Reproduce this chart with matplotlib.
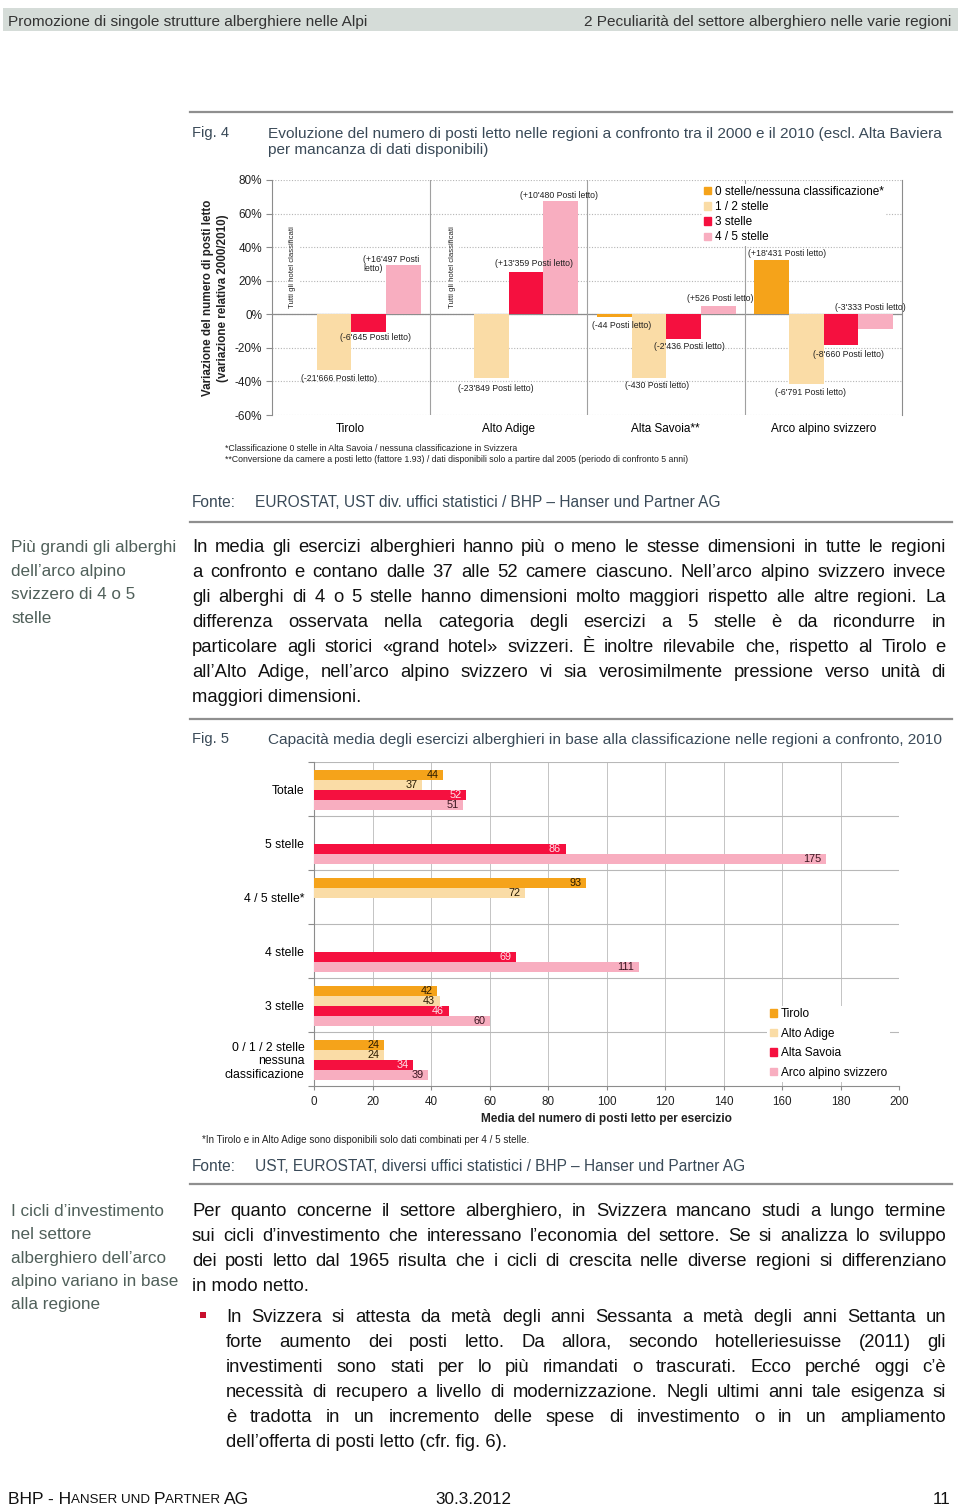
import matplotlib
matplotlib.use('Agg')
import matplotlib.pyplot as plt
from matplotlib import font_manager
from matplotlib.patches import Patch, Rectangle
from matplotlib.lines import Line2D
import numpy as np

# ---- Fig. 4 data: change of bed places 2000/2010 (%), per class, per region
regions = ['Tirolo', 'Alto Adige', 'Alta Savoia**', 'Arco alpino svizzero']
classes = ['0 stelle/nessuna classificazione*', '1 / 2 stelle', '3 stelle', '4 / 5 stelle']
pct_0 = [np.nan, np.nan, -1.6, 32.1]
pct_12 = [-33.3, -38.0, -37.7, -41.7]
pct_3 = [-10.7, 25.0, -14.5, -18.5]
pct_45 = [29.2, 67.3, 4.8, -8.5]
lab_0 = [None, None, "(-44 Posti letto)", "(+18'431 Posti letto)"]
lab_12 = ["(-21'666 Posti letto)", "(-23'849 Posti letto)", "(-430 Posti letto)", "(-6'791 Posti letto)"]
lab_3 = ["(-6'645 Posti letto)", "(+13'359 Posti letto)", "(-2'436 Posti letto)", "(-8'660 Posti letto)"]
lab_45 = ["(+16'497 Posti\nletto)", "(+10'480 Posti letto)", "(+526 Posti letto)", "(-3'333 Posti letto)"]

# ---- Fig. 5 data: average bed places per establishment, 2010
categories = ['Totale', '5 stelle', '4 / 5 stelle*', '4 stelle', '3 stelle',
              '0 / 1 / 2 stelle\nnessuna\nclassificazione']
areas = ['Tirolo', 'Alto Adige', 'Alta Savoia', 'Arco alpino svizzero']
beds_tirolo = [44, np.nan, 93, np.nan, 42, 24]
beds_altoadige = [37, np.nan, 72, np.nan, 43, 24]
beds_altasavoia = [52, 86, np.nan, 69, 46, 34]
beds_arco = [51, 175, np.nan, 111, 60, 39]

colors = ['#F5A31A', '#FADCA6', '#F5103F', '#F8AEC0']

W, H = 960, 1508
plt.rcParams['font.family'] = ['Liberation Sans', 'DejaVu Sans']
names = {f.name for f in font_manager.fontManager.ttflist}
NARROW = 'Liberation Sans Narrow' if 'Liberation Sans Narrow' in names else 'Liberation Sans'

fig = plt.figure(figsize=(9.6, 15.08), dpi=100)
renderer = fig.canvas.get_renderer()


def fx(x):
    return x / W


def fy(y):
    return 1 - y / H


def txt(x, y, s, size, ha='left', **kw):
    # y is the visual middle of the text line, in pixels from the top
    base = y + 0.36 * size * 100 / 72
    return fig.text(fx(x), fy(base), s, fontsize=size, ha=ha, va='baseline', **kw)


def justify(x0, x1, y, line, size, last=False, **kw):
    words = line.split(' ')
    if last or len(words) == 1:
        return txt(x0, y, line, size, **kw)
    arts = [txt(x0, y, w, size, **kw) for w in words]
    widths = [a.get_window_extent(renderer).width for a in arts]
    gap = (x1 - x0 - sum(widths)) / (len(words) - 1)
    x = x0
    for a, w in zip(arts, widths):
        a.set_x(fx(x))
        x += w + gap


def hline(y, x0=190, x1=952):
    fig.add_artist(Line2D([fx(x0), fx(x1)], [fy(y), fy(y)], color='#8f8f8f', lw=1.6))


CAP = '#3a4a58'
BODY = 13.3

# header band
fig.add_artist(Rectangle((fx(3), fy(31)), (958 - 3) / W, 23 / H, color='#d5dcd8', lw=0))
txt(8, 20, 'Promozione di singole strutture alberghiere nelle Alpi', 11.1, color='#333333', family=NARROW)
txt(951, 20, '2 Peculiarità del settore alberghiero nelle varie regioni', 11.1, ha='right',
    color='#333333', family=NARROW)

# ---- Fig. 4 caption
hline(112)
txt(192, 132, 'Fig. 4', 10.6, color=CAP)
txt(268, 132, 'Evoluzione del numero di posti letto nelle regioni a confronto tra il 2000 e il 2010 (escl. Alta Baviera',
    11.05, color=CAP)
txt(268, 148, 'per mancanza di dati disponibili)', 11.05, color=CAP)

ax1 = fig.add_axes([fx(272), fy(415), (902 - 272) / W, (415 - 180) / H])
ax1.set_xlim(0, 4)
ax1.set_ylim(-60, 80)
slot, off = 0.22, 0.063
series1 = [pct_0, pct_12, pct_3, pct_45]
for k, (vals, col) in enumerate(zip(series1, colors)):
    for g, v in enumerate(vals):
        if np.isnan(v):
            continue
        ax1.bar(g + off + k * slot, v, width=slot, align='edge', color=col, zorder=3)

ax1.set_yticks(range(-60, 81, 20))
ax1.set_yticklabels([f'{v}%' for v in range(-60, 81, 20)], fontsize=8.5)
ax1.yaxis.grid(True, color='#b5b5b5', ls=(0, (1, 1.5)), lw=0.8)
ax1.set_axisbelow(True)
ax1.axhline(0, color='#8c8c8c', lw=0.9, zorder=2)
for g in (1, 2, 3):
    ax1.axvline(g, color='#a0a0a0', lw=0.8, zorder=2)
for s in ('top', 'bottom'):
    ax1.spines[s].set_visible(False)
for s in ('left', 'right'):
    ax1.spines[s].set_color('#8c8c8c')
    ax1.spines[s].set_linewidth(0.8)
ax1.tick_params(axis='y', colors='#8c8c8c', labelcolor='#222222', length=4, width=0.8, pad=3)
ax1.set_xticks([0.5, 1.5, 2.5, 3.5])
ax1.set_xticklabels(regions, fontsize=8.5)
ax1.tick_params(axis='x', length=0, pad=6)

# value annotations (layout positions in data coordinates)
label_pos = [
    [None, None, (2.219, -6.6, 'center'), (3.27, 36.3, 'center')],
    [(0.425, -38.5, 'center'), (1.42, -44.5, 'center'), (2.444, -42.7, 'center'), (3.416, -46.7, 'center')],
    [(0.654, -14.0, 'center'), (1.665, 30.0, 'center'), (2.648, -19.3, 'center'), (3.66, -23.8, 'center')],
    [(0.58, 30.0, 'left'), (1.822, 70.7, 'center'), (2.848, 9.5, 'center'), (3.8, 4.2, 'center')],
]
for labs, poss in zip([lab_0, lab_12, lab_3, lab_45], label_pos):
    for s, p in zip(labs, poss):
        if s is None:
            continue
        ax1.text(p[0], p[1], s, fontsize=6.3, ha=p[2], va='center', color='#222222',
                 zorder=5, linespacing=1.1)
for gx in (0.133, 1.149):
    ax1.text(gx, 3.5, 'Tutti gli hotel classificati', rotation=90, fontsize=5.6, ha='center',
             va='bottom', color='#222222', zorder=4,
             bbox=dict(fc='white', ec='none', pad=1.5))

leg1 = ax1.legend([Patch(color=c) for c in colors], classes, loc='upper left',
                  bbox_to_anchor=(fx(702), fy(183.5)), bbox_transform=fig.transFigure,
                  fontsize=8.5, handlelength=0.6, handleheight=0.6, handletextpad=0.3,
                  labelspacing=0.27, borderpad=0.2, borderaxespad=0, frameon=True,
                  fancybox=False)
leg1.get_frame().set_edgecolor('none')
leg1.get_frame().set_facecolor('white')
leg1.get_frame().set_alpha(1)
leg1.set_zorder(6)

fig.text(fx(208), fy(298), 'Variazione del numero di posti letto', rotation=90, fontsize=8.4,
         fontweight='bold', ha='center', va='center', color='#222222')
fig.text(fx(223), fy(298), '(variazione relativa 2000/2010)', rotation=90, fontsize=8.4,
         fontweight='bold', ha='center', va='center', color='#222222')

txt(225, 448, '*Classificazione 0 stelle in Alta Savoia / nessuna classificazione in Svizzera', 6.3,
    color='#222222')
txt(225, 459, '**Conversione da camere a posti letto (fattore 1.93) / dati disponibili solo a partire '
    'dal 2005 (periodo di confronto 5 anni)', 6.3, color='#222222')
txt(192, 501, 'Fonte:', 11.2, color=CAP)
txt(255, 501, 'EUROSTAT, UST div. uffici statistici / BHP – Hanser und Partner AG', 11.2, color=CAP)
hline(522)

# ---- text block 1
side = '#50605a'
for i, s in enumerate(['Più grandi gli alberghi', 'dell’arco alpino', 'svizzero di 4 o 5', 'stelle']):
    txt(11, 546 + 23.5 * i, s, 12.3, color=side)
para1 = [
    'In media gli esercizi alberghieri hanno più o meno le stesse dimensioni in tutte le regioni',
    'a confronto e contano dalle 37 alle 52 camere ciascuno. Nell’arco alpino svizzero invece',
    'gli alberghi di 4 o 5 stelle hanno dimensioni molto maggiori rispetto alle altre regioni. La',
    'differenza osservata nella categoria degli esercizi a 5 stelle è da ricondurre in',
    'particolare agli storici «grand hotel» svizzeri. È inoltre rilevabile che, rispetto al Tirolo e',
    'all’Alto Adige, nell’arco alpino svizzero vi sia verosimilmente pressione verso unità di',
    'maggiori dimensioni.',
]
for i, s in enumerate(para1):
    justify(192, 946, 545 + 25 * i, s, BODY, last=(i == len(para1) - 1), color='#111111')
hline(719)

# ---- Fig. 5
txt(192, 738, 'Fig. 5', 10.6, color=CAP)
txt(268, 738, 'Capacità media degli esercizi alberghieri in base alla classificazione nelle regioni a '
    'confronto, 2010', 11.05, color=CAP)

ax2 = fig.add_axes([fx(314), fy(1086), (899 - 314) / W, (1086 - 762) / H])
ax2.set_xlim(0, 200)
ax2.set_ylim(6, 0)
bh, boff = 10 / 54, 8 / 54
text_cols = ['#2a1a00', '#2a1a00', '#fde6ec', '#3a1520']
for k, (vals, col, tcol) in enumerate(zip([beds_tirolo, beds_altoadige, beds_altasavoia, beds_arco],
                                          colors, text_cols)):
    for i, v in enumerate(vals):
        if np.isnan(v):
            continue
        y = i + boff + k * bh
        ax2.barh(y, v, height=bh, align='edge', color=col, zorder=3)
        ax2.annotate(f'{int(v)}', (v, y + bh / 2), xytext=(-3.2, 0), textcoords='offset points',
                     ha='right', va='center', fontsize=7.8, color=tcol, zorder=4)

ax2.set_xticks(range(0, 201, 20))
ax2.tick_params(axis='x', labelsize=8.4, colors='#8c8c8c', labelcolor='#222222', length=3, pad=4)
ax2.xaxis.grid(True, color='#c4c4c4', lw=0.7)
ax2.set_axisbelow(True)
for b in range(0, 6):
    ax2.axhline(b, color='#b8b8b8', lw=0.8, zorder=1)
ax2.set_yticks(range(7))
ax2.set_yticklabels([])
ax2.set_yticks(np.arange(6) + 0.5, minor=True)
ax2.set_yticklabels(categories, minor=True, fontsize=8.8, linespacing=1.15)
ax2.tick_params(axis='y', which='major', colors='#8c8c8c', length=4)
ax2.tick_params(axis='y', which='minor', length=0, pad=7)
for s in ('top', 'right'):
    ax2.spines[s].set_visible(False)
for s in ('left', 'bottom'):
    ax2.spines[s].set_color('#8c8c8c')
    ax2.spines[s].set_linewidth(0.8)
ax2.set_xlabel('Media del numero di posti letto per esercizio', fontsize=8.6, fontweight='bold',
               labelpad=4, color='#222222')

leg2 = ax2.legend([Patch(color=c) for c in colors], areas, loc='upper left',
                  bbox_to_anchor=(fx(767), fy(1005.5)), bbox_transform=fig.transFigure,
                  fontsize=8.6, handlelength=0.6, handleheight=0.6, handletextpad=0.3,
                  labelspacing=0.62, borderpad=0.25, borderaxespad=0, frameon=True,
                  fancybox=False)
leg2.get_frame().set_edgecolor('none')
leg2.get_frame().set_facecolor('white')
leg2.get_frame().set_alpha(1)

txt(202, 1139, '*In Tirolo e in Alto Adige sono disponibili solo dati combinati per 4 / 5 stelle.', 7.1,
    color='#222222')
txt(192, 1165, 'Fonte:', 11.2, color=CAP)
txt(255, 1165, 'UST, EUROSTAT, diversi uffici statistici / BHP – Hanser und Partner AG', 11.2, color=CAP)
hline(1184)

# ---- text block 2
for i, s in enumerate(['I cicli d’investimento', 'nel settore', 'alberghiero dell’arco',
                       'alpino variano in base', 'alla regione']):
    txt(11, 1210 + 23.2 * i, s, 12.3, color=side)
para2 = [
    'Per quanto concerne il settore alberghiero, in Svizzera mancano studi a lungo termine',
    'sui cicli d’investimento che interessano l’economia del settore. Se si analizza lo sviluppo',
    'dei posti letto dal 1965 risulta che i cicli di crescita nelle diverse regioni si differenziano',
    'in modo netto.',
]
for i, s in enumerate(para2):
    justify(192, 946, 1209 + 25 * i, s, BODY, last=(i == len(para2) - 1), color='#111111')

fig.add_artist(Rectangle((fx(200), fy(1318)), 6 / W, 6 / H, color='#c8102e', lw=0))
bullet = [
    'In Svizzera si attesta da metà degli anni Sessanta a metà degli anni Settanta un',
    'forte aumento dei posti letto. Da allora, secondo hotelleriesuisse (2011) gli',
    'investimenti sono stati per lo più rimandati o trascurati. Ecco perché oggi c’è',
    'necessità di recupero a livello di modernizzazione. Negli ultimi anni tale esigenza si',
    'è tradotta in un incremento delle spese di investimento o in un ampliamento',
    'dell’offerta di posti letto (cfr. fig. 6).',
]
for i, s in enumerate(bullet):
    justify(226, 946, 1315 + 25 * i, s, BODY, last=(i == len(bullet) - 1), color='#111111',
            family=NARROW)

# ---- footer with small caps
x = 8
for part, size in [('BHP - H', 12.6), ('ANSER UND ', 9.6), ('P', 12.6), ('ARTNER ', 9.6), ('AG', 12.6)]:
    t = txt(x, 1498, part, size, color='#111111')
    x += t.get_window_extent(renderer).width
txt(435, 1498, '30.3.2012', 12.3, color='#111111')
txt(950, 1498, '11', 12.3, ha='right', color='#111111')

fig.savefig('out.png', dpi=100)
